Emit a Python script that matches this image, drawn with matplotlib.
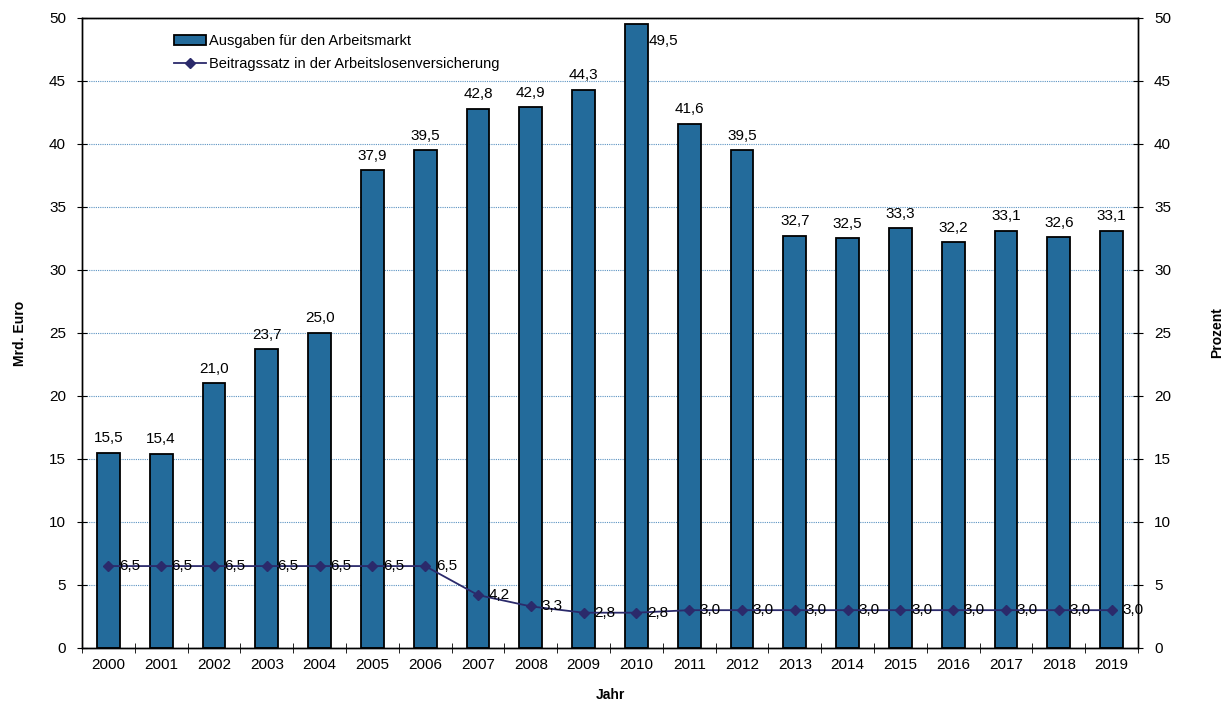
import matplotlib
matplotlib.use("Agg")
import matplotlib.pyplot as plt
import numpy as np

plt.rcParams['font.family'] = ['Liberation Sans', 'DejaVu Sans']

years = [str(y) for y in range(2000, 2020)]
ausgaben = [15.5, 15.4, 21.0, 23.7, 25.0, 37.9, 39.5, 42.8, 42.9, 44.3,
            49.5, 41.6, 39.5, 32.7, 32.5, 33.3, 32.2, 33.1, 32.6, 33.1]
beitrag = [6.5, 6.5, 6.5, 6.5, 6.5, 6.5, 6.5, 4.2, 3.3, 2.8,
           2.8, 3.0, 3.0, 3.0, 3.0, 3.0, 3.0, 3.0, 3.0, 3.0]


def de(v):
    return f"{v:.1f}".replace(".", ",")


fig = plt.figure(figsize=(12.27, 7.05), dpi=100)
ax = fig.add_axes([0.0668, 0.0809, 0.8607, 0.8936])
x = np.arange(len(years))
barw = 0.43

ax.yaxis.grid(True, linestyle=(0, (1, 1)), color='#5b93c2', linewidth=0.8)
ax.set_axisbelow(True)
bars = ax.bar(x, ausgaben, width=barw, color='#236b9b', edgecolor='black',
              linewidth=1.3, zorder=2)
for xi, v in zip(x, ausgaben):
    if v > 48:
        # no room above the top bar, put it beside
        ax.text(xi + barw / 2 + 0.01, v - 0.8, de(v), ha='left', va='top', fontsize=11)
    else:
        ax.text(xi, v + 0.6, de(v), ha='center', va='bottom', fontsize=11)

ax.set_xlim(-0.5, len(years) - 0.5)
ax.set_ylim(0, 50)
ax.set_yticks(range(0, 51, 5))
ax.set_xticks(x)
ax.set_xticklabels(years, fontsize=11)
ax.set_xticks(np.arange(-0.5, len(years), 1), minor=True)
ax.tick_params(axis='x', which='major', length=0, pad=7)
ax.tick_params(axis='x', which='minor', length=7, direction='inout')
ax.tick_params(axis='y', length=7, direction='inout', labelsize=11, pad=8)
ax.set_ylabel('Mrd. Euro', fontsize=10, fontweight='bold', labelpad=16)
ax.set_xlabel('Jahr', fontsize=10, fontweight='bold', labelpad=12)

ax2 = ax.twinx()
ax2.set_ylim(0, 50)
ax2.set_yticks(range(0, 51, 5))
ax2.tick_params(axis='y', length=7, direction='inout', labelsize=11, pad=8)
line, = ax2.plot(x, beitrag, color='#2b2a6b', marker='D', markersize=5.5,
                 linewidth=1.3)
for xi, v in zip(x, beitrag):
    ax2.text(xi + 0.2, v, de(v), ha='left', va='center', fontsize=11)
ax2.set_ylabel('Prozent', fontsize=10, fontweight='bold', labelpad=28)

for a in (ax, ax2):
    for s in a.spines.values():
        s.set_linewidth(1.0)

ax.legend([bars, line], ['Ausgaben für den Arbeitsmarkt',
                         'Beitragssatz in der Arbeitslosenversicherung'],
          loc='upper left', bbox_to_anchor=(0.075, 0.995), frameon=False,
          fontsize=10.5, handlelength=2.2, handletextpad=0.2, labelspacing=0.6)

fig.savefig('out.png', dpi=100)
